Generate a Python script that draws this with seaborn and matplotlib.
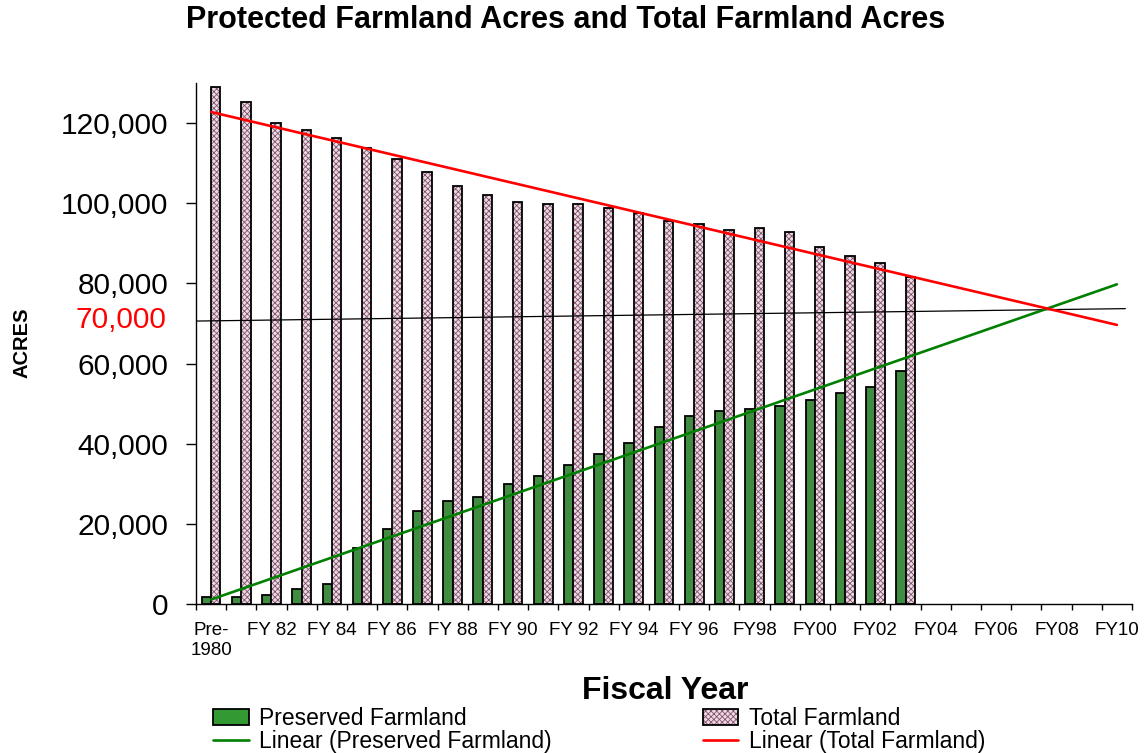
import numpy as np
import pandas as pd
import matplotlib.pyplot as plt
import seaborn as sns
from matplotlib.patches import Patch, Rectangle
from matplotlib.lines import Line2D

# fiscal years on the x axis (bars only up to FY03, trend runs to FY10)
years = ['Pre-\n1980', 'FY 81', 'FY 82', 'FY 83', 'FY 84', 'FY 85', 'FY 86', 'FY 87',
         'FY 88', 'FY 89', 'FY 90', 'FY 91', 'FY 92', 'FY 93', 'FY 94', 'FY 95',
         'FY 96', 'FY97', 'FY98', 'FY99', 'FY00', 'FY01', 'FY02', 'FY03',
         'FY04', 'FY05', 'FY06', 'FY07', 'FY08', 'FY09', 'FY10']

preserved = [1800, 1800, 2200, 3800, 5100, 13900, 18700, 23200, 25700, 26800, 29900, 31900,
             34700, 37400, 40200, 44200, 47000, 48100, 48700, 49300, 51000, 52700, 54100, 58100]
total = [128900, 125300, 120100, 118300, 116300, 113900, 111100, 107900, 104300, 102000, 100400, 99800,
         99900, 98900, 97500, 95600, 94700, 93400, 93700, 92700, 89100, 86900, 85200, 81700]

# hand drawn reference line (start at left axis, end near FY10)
ref_line = [70600, 73700]
ref_label = '70,000'

green = '#339933'
pink_face = '#eadbe3'
pink_hatch = '#87506f'

n = len(preserved)
df = pd.DataFrame({
    'year': years[:n] * 2,
    'acres': preserved + total,
    'series': ['Preserved Farmland'] * n + ['Total Farmland'] * n,
})

sns.set_style('white')
plt.rcParams['font.family'] = ['Liberation Sans', 'DejaVu Sans']
plt.rcParams['hatch.linewidth'] = 0.6
plt.rcParams['text.color'] = 'black'
plt.rcParams['xtick.color'] = 'black'
plt.rcParams['ytick.color'] = 'black'

fig = plt.figure(figsize=(11.44, 7.53), dpi=100)
ax = fig.add_axes([196 / 1144, 1 - 604 / 753, (1132 - 196) / 1144, (604 - 83) / 753])

sns.barplot(data=df, x='year', y='acres', hue='series', order=years,
            hue_order=['Preserved Farmland', 'Total Farmland'],
            palette=[green, pink_face], width=0.62, edgecolor='black',
            linewidth=1.3, legend=False, ax=ax)

# total farmland bars: hatch in pink, then a black outline on top
for p in ax.containers[1]:
    p.set_hatch('xxxxxx')
    p.set_edgecolor(pink_hatch)
    p.set_linewidth(0)
    ax.add_patch(Rectangle(p.get_xy(), p.get_width(), p.get_height(), fill=False,
                           edgecolor='black', linewidth=1.3, zorder=p.get_zorder() + 0.1))

# linear trends, extended to FY10
idx = np.arange(n)
xs = np.arange(len(years))
fit_p = np.polyfit(idx, preserved, 1)
fit_t = np.polyfit(idx, total, 1)
ax.plot(xs, np.polyval(fit_p, xs), color='#008000', lw=1.9, zorder=5)
ax.plot(xs, np.polyval(fit_t, xs), color='#ff0000', lw=1.9, zorder=5)

ax.plot([-0.5, len(years) - 0.72], ref_line, color='black', lw=0.9, zorder=4)
ax.annotate(ref_label, xy=(0, 70800), xycoords=('axes fraction', 'data'),
            xytext=(-21, 0), textcoords='offset points', ha='right', va='center',
            color='#ff0000', fontsize=21.5)

ax.set_xlim(-0.5, len(years) - 0.5)
ax.set_ylim(0, 130000)
ax.set_yticks(range(0, 130000, 20000))
ax.set_yticklabels([f'{v:,}' for v in range(0, 130000, 20000)])
ax.tick_params(axis='y', length=7, width=1, pad=13, labelsize=21.5, left=True, direction='out')

ax.set_xticks(range(0, len(years), 2))
ax.set_xticklabels([years[i] for i in range(0, len(years), 2)], fontsize=13.5)
ax.set_xticks(np.arange(-0.5, len(years), 1), minor=True)
ax.tick_params(axis='x', which='major', length=0, pad=13)
ax.tick_params(axis='x', which='minor', length=4, width=1, bottom=True, direction='out')
ax.set_xlabel('')
ax.set_ylabel('')

sns.despine(ax=ax)
for s in ['left', 'bottom']:
    ax.spines[s].set_color('black')
    ax.spines[s].set_linewidth(1)

fig.text(0.494, 0.973, 'Protected Farmland Acres and Total Farmland Acres',
         ha='center', va='center', fontsize=22, fontweight='bold')
fig.text(0.019, 0.545, 'ACRES', rotation=90, ha='center', va='center',
         fontsize=14.5, fontweight='bold')
fig.text(665 / 1144, 1 - 691 / 753, 'Fiscal Year', ha='center', va='center',
         fontsize=23, fontweight='bold')

h_pres = Patch(facecolor=green, edgecolor='black', linewidth=1.3)
h_tot = (Patch(facecolor=pink_face, edgecolor=pink_hatch, hatch='xxxxxx', linewidth=0),
         Patch(fill=False, edgecolor='black', linewidth=1.3))
h_lp = Line2D([], [], color='#008000', lw=1.9)
h_lt = Line2D([], [], color='#ff0000', lw=1.9)
fig.legend([h_pres, h_lp, h_tot, h_lt],
           ['Preserved Farmland', 'Linear (Preserved Farmland)', 'Total Farmland', 'Linear (Total Farmland)'],
           ncol=2, loc='upper left', bbox_to_anchor=(213 / 1144, 1 - 707 / 753),
           frameon=False, fontsize=16.5, borderpad=0, borderaxespad=0,
           handlelength=1.55, handletextpad=0.45, columnspacing=6.6, labelspacing=0.0)

fig.savefig('out.png', dpi=100)
